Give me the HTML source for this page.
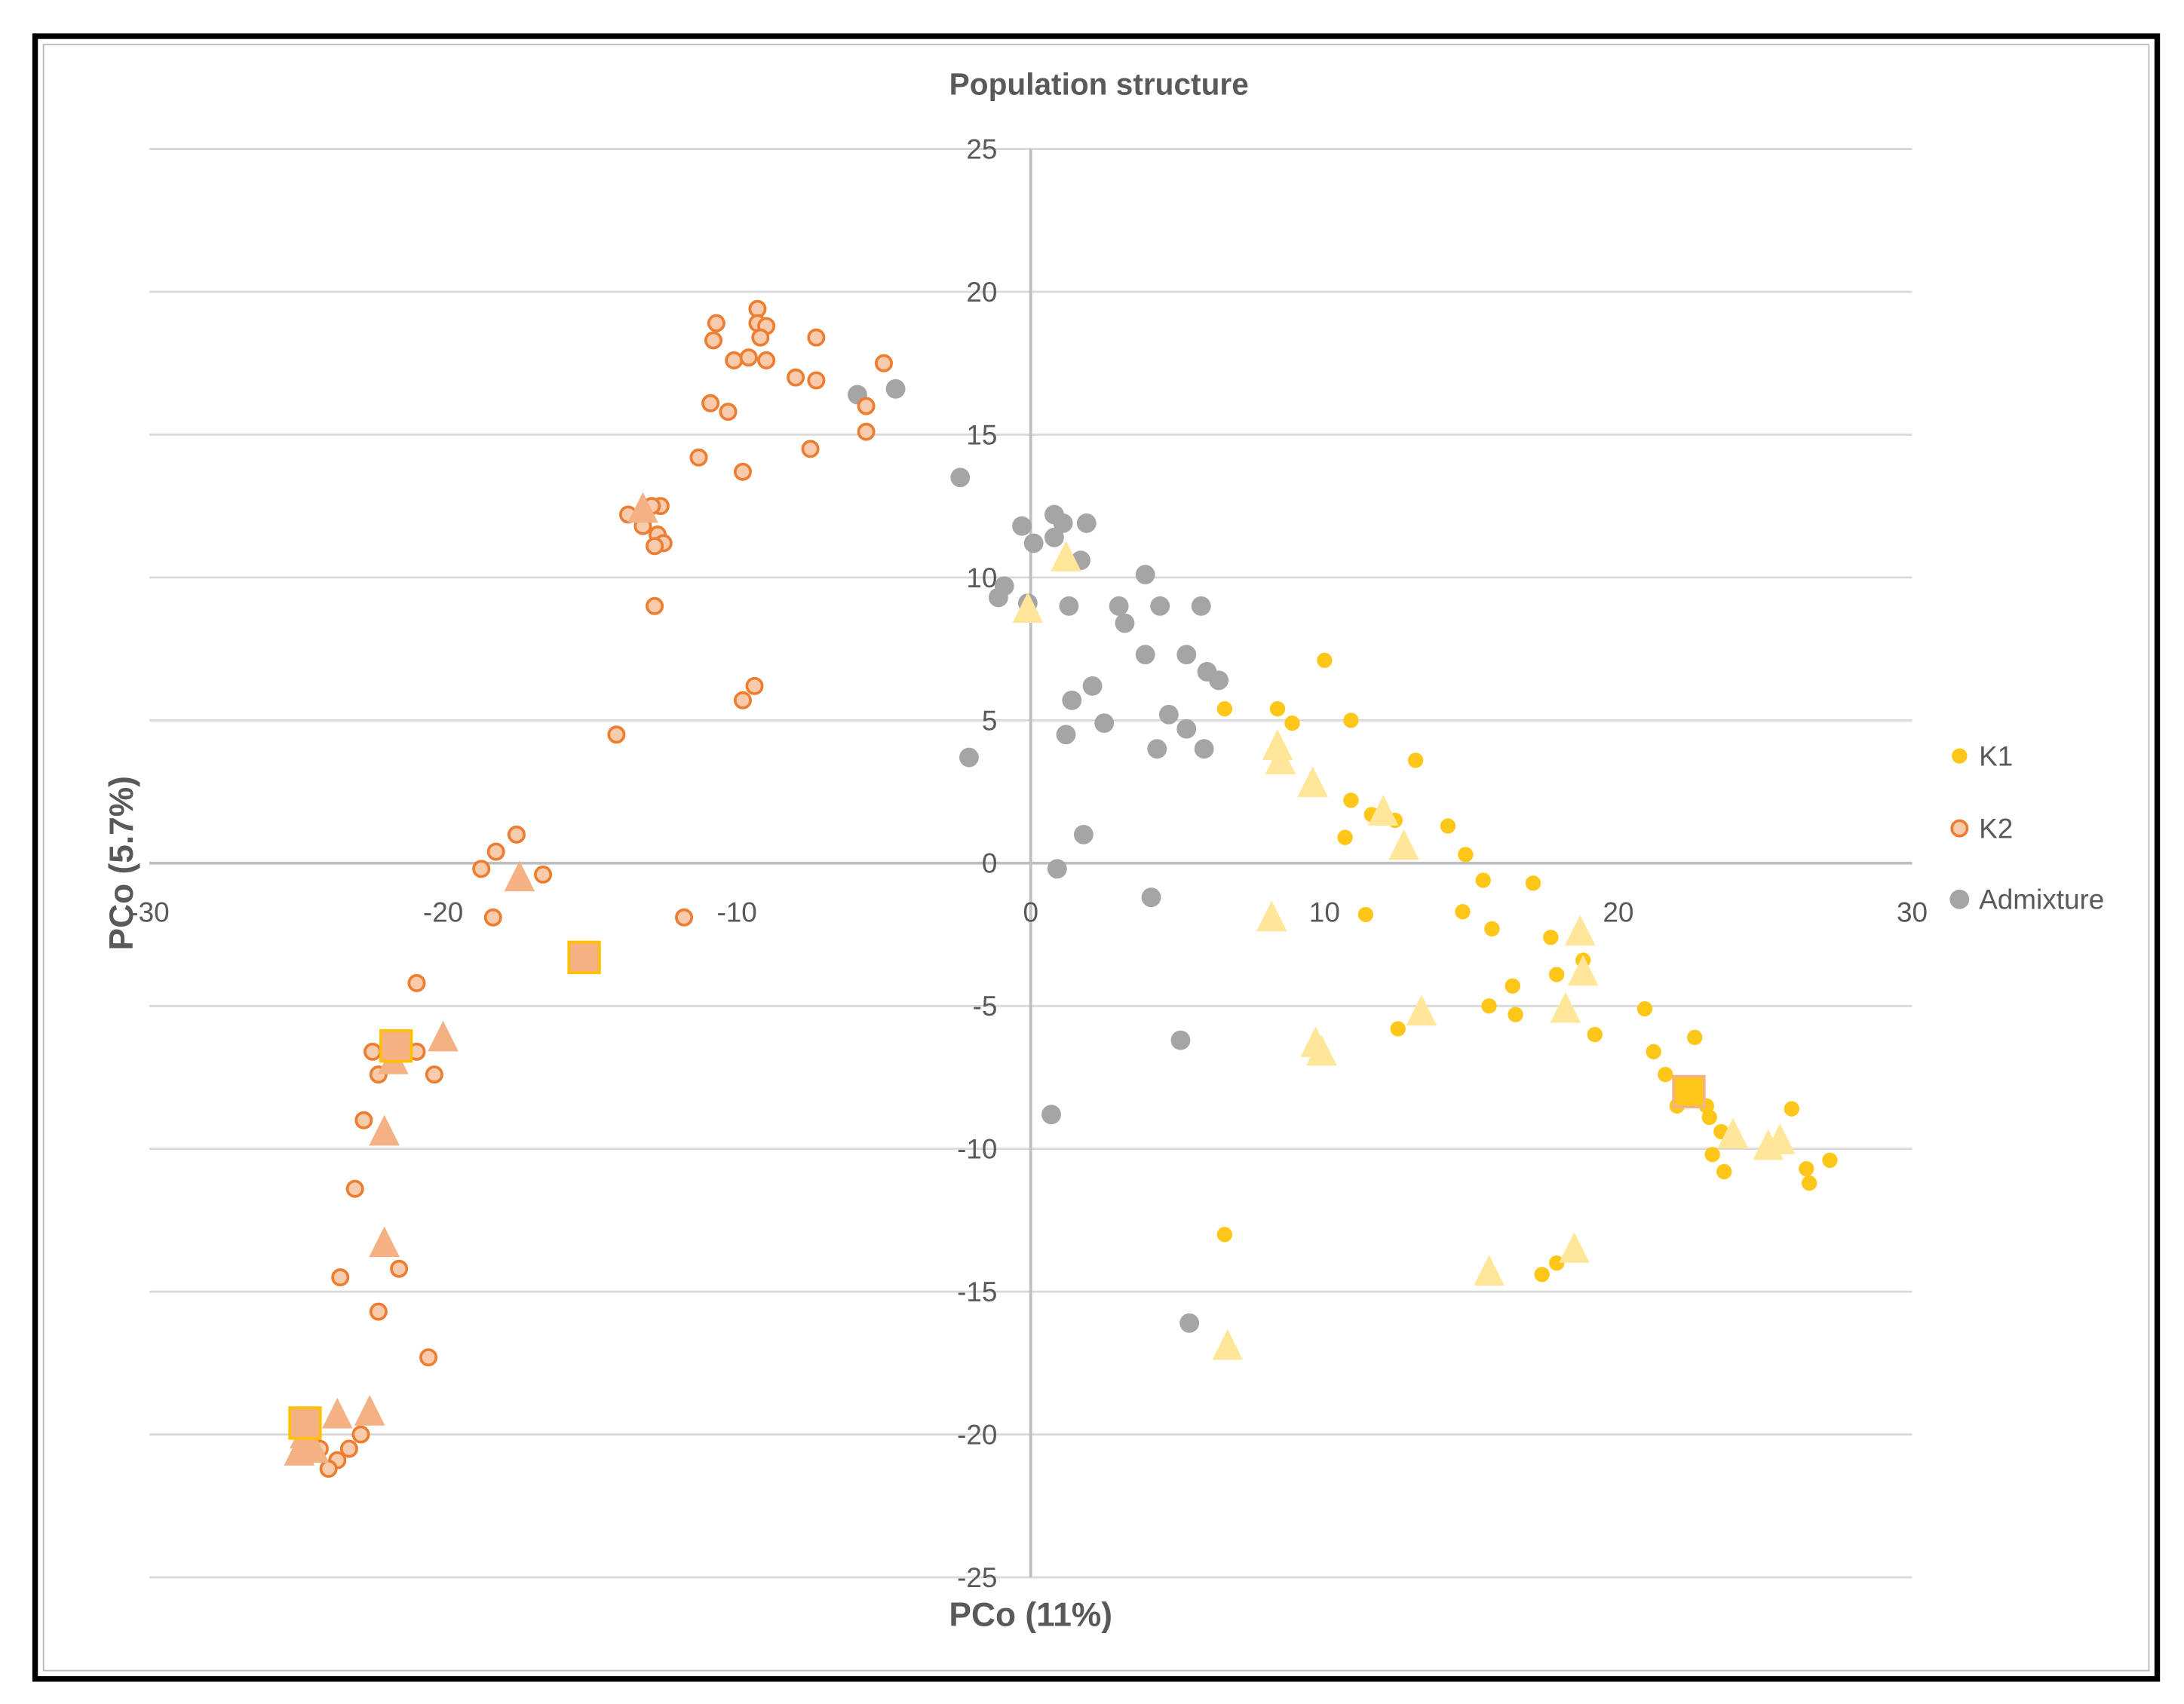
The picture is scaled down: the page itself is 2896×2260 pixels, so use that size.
<!DOCTYPE html>
<html><head><meta charset="utf-8">
<style>
html,body{margin:0;padding:0;background:#fff;}
svg{display:block;font-family:"Liberation Sans",sans-serif;}
</style></head>
<body>
<svg id="chart" width="2896" height="2260" viewBox="0 0 1568 1224" xmlns="http://www.w3.org/2000/svg">
<rect x="0" y="0" width="1568" height="1224" fill="#fff"/>
<rect x="25" y="26" width="1524" height="1180" fill="none" stroke="#000" stroke-width="4"/>
<rect x="31" y="32" width="1512" height="1168" fill="none" stroke="#bbb" stroke-width="1"/>
<text x="789" y="68" text-anchor="middle" font-size="22" font-weight="bold" fill="#595959">Population structure</text>
<g id="grid"></g>
<g id="marks"></g>
<text x="740" y="1168" text-anchor="middle" font-size="24" font-weight="bold" fill="#595959">PCo (11%)</text>
<text transform="translate(95,620) rotate(-90)" text-anchor="middle" font-size="24" font-weight="bold" fill="#595959">PCo (5.7%)</text>
<g>
<circle cx="1407" cy="543" r="5.5" fill="#FFC61A"/>
<text x="1421" y="550" font-size="20" fill="#595959">K1</text>
<circle cx="1407" cy="595" r="5.5" fill="#F8CBAD" stroke="#ED7D31" stroke-width="2"/>
<text x="1421" y="602" font-size="20" fill="#595959">K2</text>
<circle cx="1407" cy="646" r="7" fill="#A5A5A5"/>
<text x="1421" y="653" font-size="20" fill="#595959">Admixture</text>
</g>
</svg>
<script>
const xTicks=[-30,-20,-10,0,10,20,30];
const yTicks=[25,20,15,10,5,0,-5,-10,-15,-20,-25];
const k2CircX=[-9.3,-10.7,-9.3,-9.0,-10.8,-9.2,-7.3,-10.1,-9.6,-9.0,-8.0,-7.3,-5.0,-10.9,-10.3,-5.6,-5.6,-7.5,-11.3,-9.8,-12.6,-13.7,-12.9,-13.2,-12.7,-12.5,-12.8,-12.8,-9.4,-9.8,-14.1,-17.5,-18.2,-18.7,-16.6,-18.3,-11.8,-20.9,-22.4,-20.9,-22.2,-20.3,-22.7,-23.0,-21.5,-23.5,-22.2,-20.5,-22.8,-23.2,-23.6,-23.9,-24.2,-24.5,-24.5];
const k2CircY=[19.4,18.9,18.9,18.8,18.3,18.4,18.4,17.6,17.7,17.6,17.0,16.9,17.5,16.1,15.8,16.0,15.1,14.5,14.2,13.7,12.5,12.2,12.5,11.8,11.5,11.2,11.1,9.0,6.2,5.7,4.5,1.0,0.4,-0.2,-0.4,-1.9,-1.9,-4.2,-6.6,-6.6,-7.4,-7.4,-9.0,-11.4,-14.2,-14.5,-15.7,-17.3,-20.0,-20.5,-20.9,-21.2,-20.5,-20.7,-20.0];
const k2TriX=[-13.2,-17.4,-20.0,-21.7,-22.0,-22.0,-23.6,-22.5,-24.7,-24.4,-24.9];
const k2TriY=[12.4,-0.5,-6.1,-6.9,-9.4,-13.3,-19.3,-19.2,-20.0,-20.5,-20.6];
const k2SqX=[-15.2,-21.6,-24.7];
const k2SqY=[-3.3,-6.4,-19.6];
const admX=[-5.9,-4.6,-2.4,-0.3,0.8,1.1,1.9,0.1,0.8,1.7,-0.9,-1.1,-0.1,1.3,3.9,3.0,4.4,5.8,3.2,3.9,5.3,6.0,6.4,2.1,1.4,2.5,1.2,4.7,5.3,4.3,5.9,-2.1,1.8,0.9,4.1,5.1,0.7,5.4];
const admY=[16.4,16.6,13.5,11.8,12.2,11.9,11.9,11.2,11.4,10.6,9.7,9.3,9.1,9.0,10.1,9.0,9.0,9.0,8.4,7.3,7.3,6.7,6.4,6.2,5.7,4.9,4.5,5.2,4.7,4.0,4.0,3.7,1.0,-0.2,-1.2,-6.2,-8.8,-16.1];
const k1CircX=[6.6,10.0,8.4,8.9,10.9,13.1,10.9,11.6,12.4,10.7,14.2,14.8,15.4,17.1,14.7,15.7,11.4,17.7,16.4,17.9,18.8,15.6,16.5,12.5,19.2,20.9,21.2,22.6,21.6,22.0,23.0,23.1,23.5,23.2,23.6,25.9,26.4,26.5,27.2,6.6,17.4,17.9];
const k1CircY=[5.4,7.1,5.4,4.9,5.0,3.6,2.2,1.7,1.5,0.9,1.3,0.3,-0.6,-0.7,-1.7,-2.3,-1.8,-2.6,-4.3,-3.9,-3.4,-5.0,-5.3,-5.8,-6.0,-5.1,-6.6,-6.1,-7.4,-8.5,-8.5,-8.9,-9.4,-10.2,-10.8,-8.6,-10.7,-11.2,-10.4,-13.0,-14.4,-14.0];
const k1TriX=[1.2,-0.1,8.4,8.5,9.6,8.2,12.0,12.7,13.3,9.7,9.9,18.7,18.8,18.2,23.9,25.1,25.5,15.6,18.5,6.7];
const k1TriY=[10.7,8.9,4.1,3.6,2.8,-1.9,1.8,0.6,-5.2,-6.3,-6.6,-2.4,-3.8,-5.1,-9.5,-9.9,-9.7,-14.3,-13.5,-16.9];
const k1SqX=[22.4];
const k1SqY=[-8.0];

const NS="http://www.w3.org/2000/svg";
const X0=107,X1=1373,Y0=107,Y1=1133;
function sx(v){return X0+(v+30)/60*(X1-X0);}
function sy(v){return Y1-(v+25)/50*(Y1-Y0);}
function mk(tag,attrs,parent){const e=document.createElementNS(NS,tag);for(const k in attrs)e.setAttribute(k,attrs[k]);parent.appendChild(e);return e;}
const grid=document.getElementById('grid');
const marks=document.getElementById('marks');
yTicks.forEach(t=>{
  const l=mk('line',{x1:X0,x2:X1,y1:sy(t),y2:sy(t),stroke:t===0?'#bfbfbf':'#d9d9d9','stroke-width':t===0?2:1.5},grid);
  
  
  const tx=mk('text',{x:716,y:sy(t)+7,'text-anchor':'end','font-size':20,fill:'#595959'},grid);
  tx.textContent=String(t);
  
  
});
const va=mk('line',{x1:sx(0),x2:sx(0),y1:Y0,y2:Y1,stroke:'#bfbfbf','stroke-width':2},grid);


xTicks.forEach(t=>{
  const tx=mk('text',{x:sx(t),y:sy(0)+42,'text-anchor':'middle','font-size':20,fill:'#595959'},grid);
  tx.textContent=String(t);
  
  
});
function circles(xs,ys,r,fill,stroke,sw,name){
  xs.forEach((x,i)=>{
    const c=mk('circle',{cx:sx(x),cy:sy(ys[i]),r:r,fill:fill,stroke:stroke,'stroke-width':sw},marks);
    
    
  });
}
function tris(xs,ys,fill,name){
  xs.forEach((x,i)=>{
    const cx=sx(x),cy=sy(ys[i]),h=10;
    const p=mk('polygon',{points:`${cx},${cy-h-2} ${cx-h-1},${cy+h} ${cx+h+1},${cy+h}`,fill:fill},marks);
    
    
  });
}
function squares(xs,ys,fill,stroke,name){
  xs.forEach((x,i)=>{
    const r=mk('rect',{x:sx(x)-11,y:sy(ys[i])-11,width:22,height:22,fill:fill,stroke:stroke,'stroke-width':2},marks);
    
    
  });
}
circles(admX,admY,7,'#A5A5A5','none',0,'admixture-point');
circles(k2CircX,k2CircY,5.5,'#F8CBAD','#ED7D31',2,'k2-point');
tris(k2TriX,k2TriY,'#F4B183','k2-triangle');
squares(k2SqX,k2SqY,'#F4B183','#FFC000','k2-square');
circles(k1CircX,k1CircY,5.5,'#FFC61A','none',0,'k1-point');
tris(k1TriX,k1TriY,'#FFE699','k1-triangle');
squares(k1SqX,k1SqY,'#FFC61A','#F4B183','k1-square');
</script>
</body></html>
